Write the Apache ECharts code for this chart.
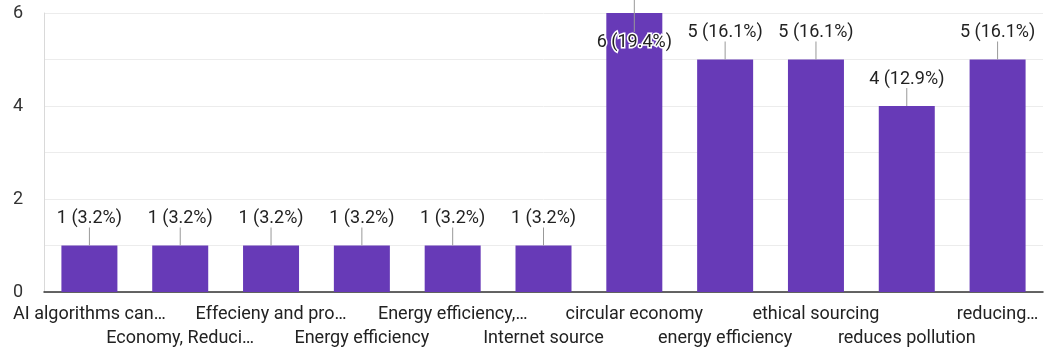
<!DOCTYPE html>
<html>
<head>
<meta charset="utf-8">
<script src="https://cdn.jsdelivr.net/npm/echarts@6/dist/echarts.min.js"></script>
<style>
  html, body { margin: 0; padding: 0; background: #fff; }
  #chart { width: 1050px; height: 350px; }
</style>
</head>
<body>
<div id="chart"></div>
<script>
// Responses per answer (short labels as shown on the axis)
const categories = [
  'AI algorithms can…', 'Economy, Reduci…', 'Effecieny and pro…', 'Energy efficiency',
  'Energy efficiency,…', 'Internet source', 'circular economy', 'energy efficiency',
  'ethical sourcing', 'reduces pollution', 'reducing…'
];
const counts = [1, 1, 1, 1, 1, 1, 6, 5, 5, 4, 5];
const yTicks = [0, 2, 4, 6];

const total = counts.reduce((a, b) => a + b, 0);
const FONT = 'Roboto, Arial, sans-serif';

const chart = echarts.init(document.getElementById('chart'));
chart.setOption({
  animation: false,
  grid: { left: 44, right: 7, top: 13, bottom: 58 },
  xAxis: {
    type: 'category',
    data: categories,
    axisLine: { lineStyle: { color: '#333', width: 1.5 } },
    axisTick: { show: false },
    axisLabel: {
      interval: 0,
      color: '#222',
      fontFamily: FONT,
      fontSize: 18,
      lineHeight: 24,
      margin: 10,
      formatter: (v, i) => (i % 2 === 1 ? '\n' + v : v)
    }
  },
  yAxis: {
    type: 'value',
    min: 0,
    max: 6,
    interval: 1,
    axisLine: { show: true, lineStyle: { color: '#d9d9d9' } },
    axisTick: { show: false },
    splitLine: { lineStyle: { color: '#ececec' } },
    axisLabel: {
      color: '#333',
      fontFamily: FONT,
      fontSize: 18,
      margin: 21,
      formatter: v => (yTicks.includes(v) ? String(v) : '')
    }
  },
  series: [
    {
      type: 'bar',
      data: counts,
      barWidth: 56,
      itemStyle: { color: '#673ab7' }
    },
    {
      // value labels with short leader lines
      type: 'custom',
      data: counts.map((v, i) => [i, v]),
      z: 5,
      renderItem: (params, api) => {
        const i = api.value(0), v = api.value(1);
        const p = api.coord([i, v]);
        const label = v + ' (' + (v / total * 100).toFixed(1) + '%)';
        let textY, y1, y2;
        if (p[1] - 36 < 0) {
          textY = p[1] + 29; y1 = 0; y2 = p[1] + 19;
        } else {
          textY = p[1] - 27; y1 = p[1] - 18; y2 = p[1];
        }
        return {
          type: 'group',
          children: [
            { type: 'line', shape: { x1: p[0], y1: y1, x2: p[0], y2: y2 },
              style: { stroke: '#999', lineWidth: 1 } },
            { type: 'text', x: p[0], y: textY,
              style: { text: label, fill: '#222', font: '18px ' + FONT,
                       align: 'center', verticalAlign: 'middle',
                       stroke: '#fff', lineWidth: 3 } }
          ]
        };
      }
    }
  ]
});
</script>
</body>
</html>
